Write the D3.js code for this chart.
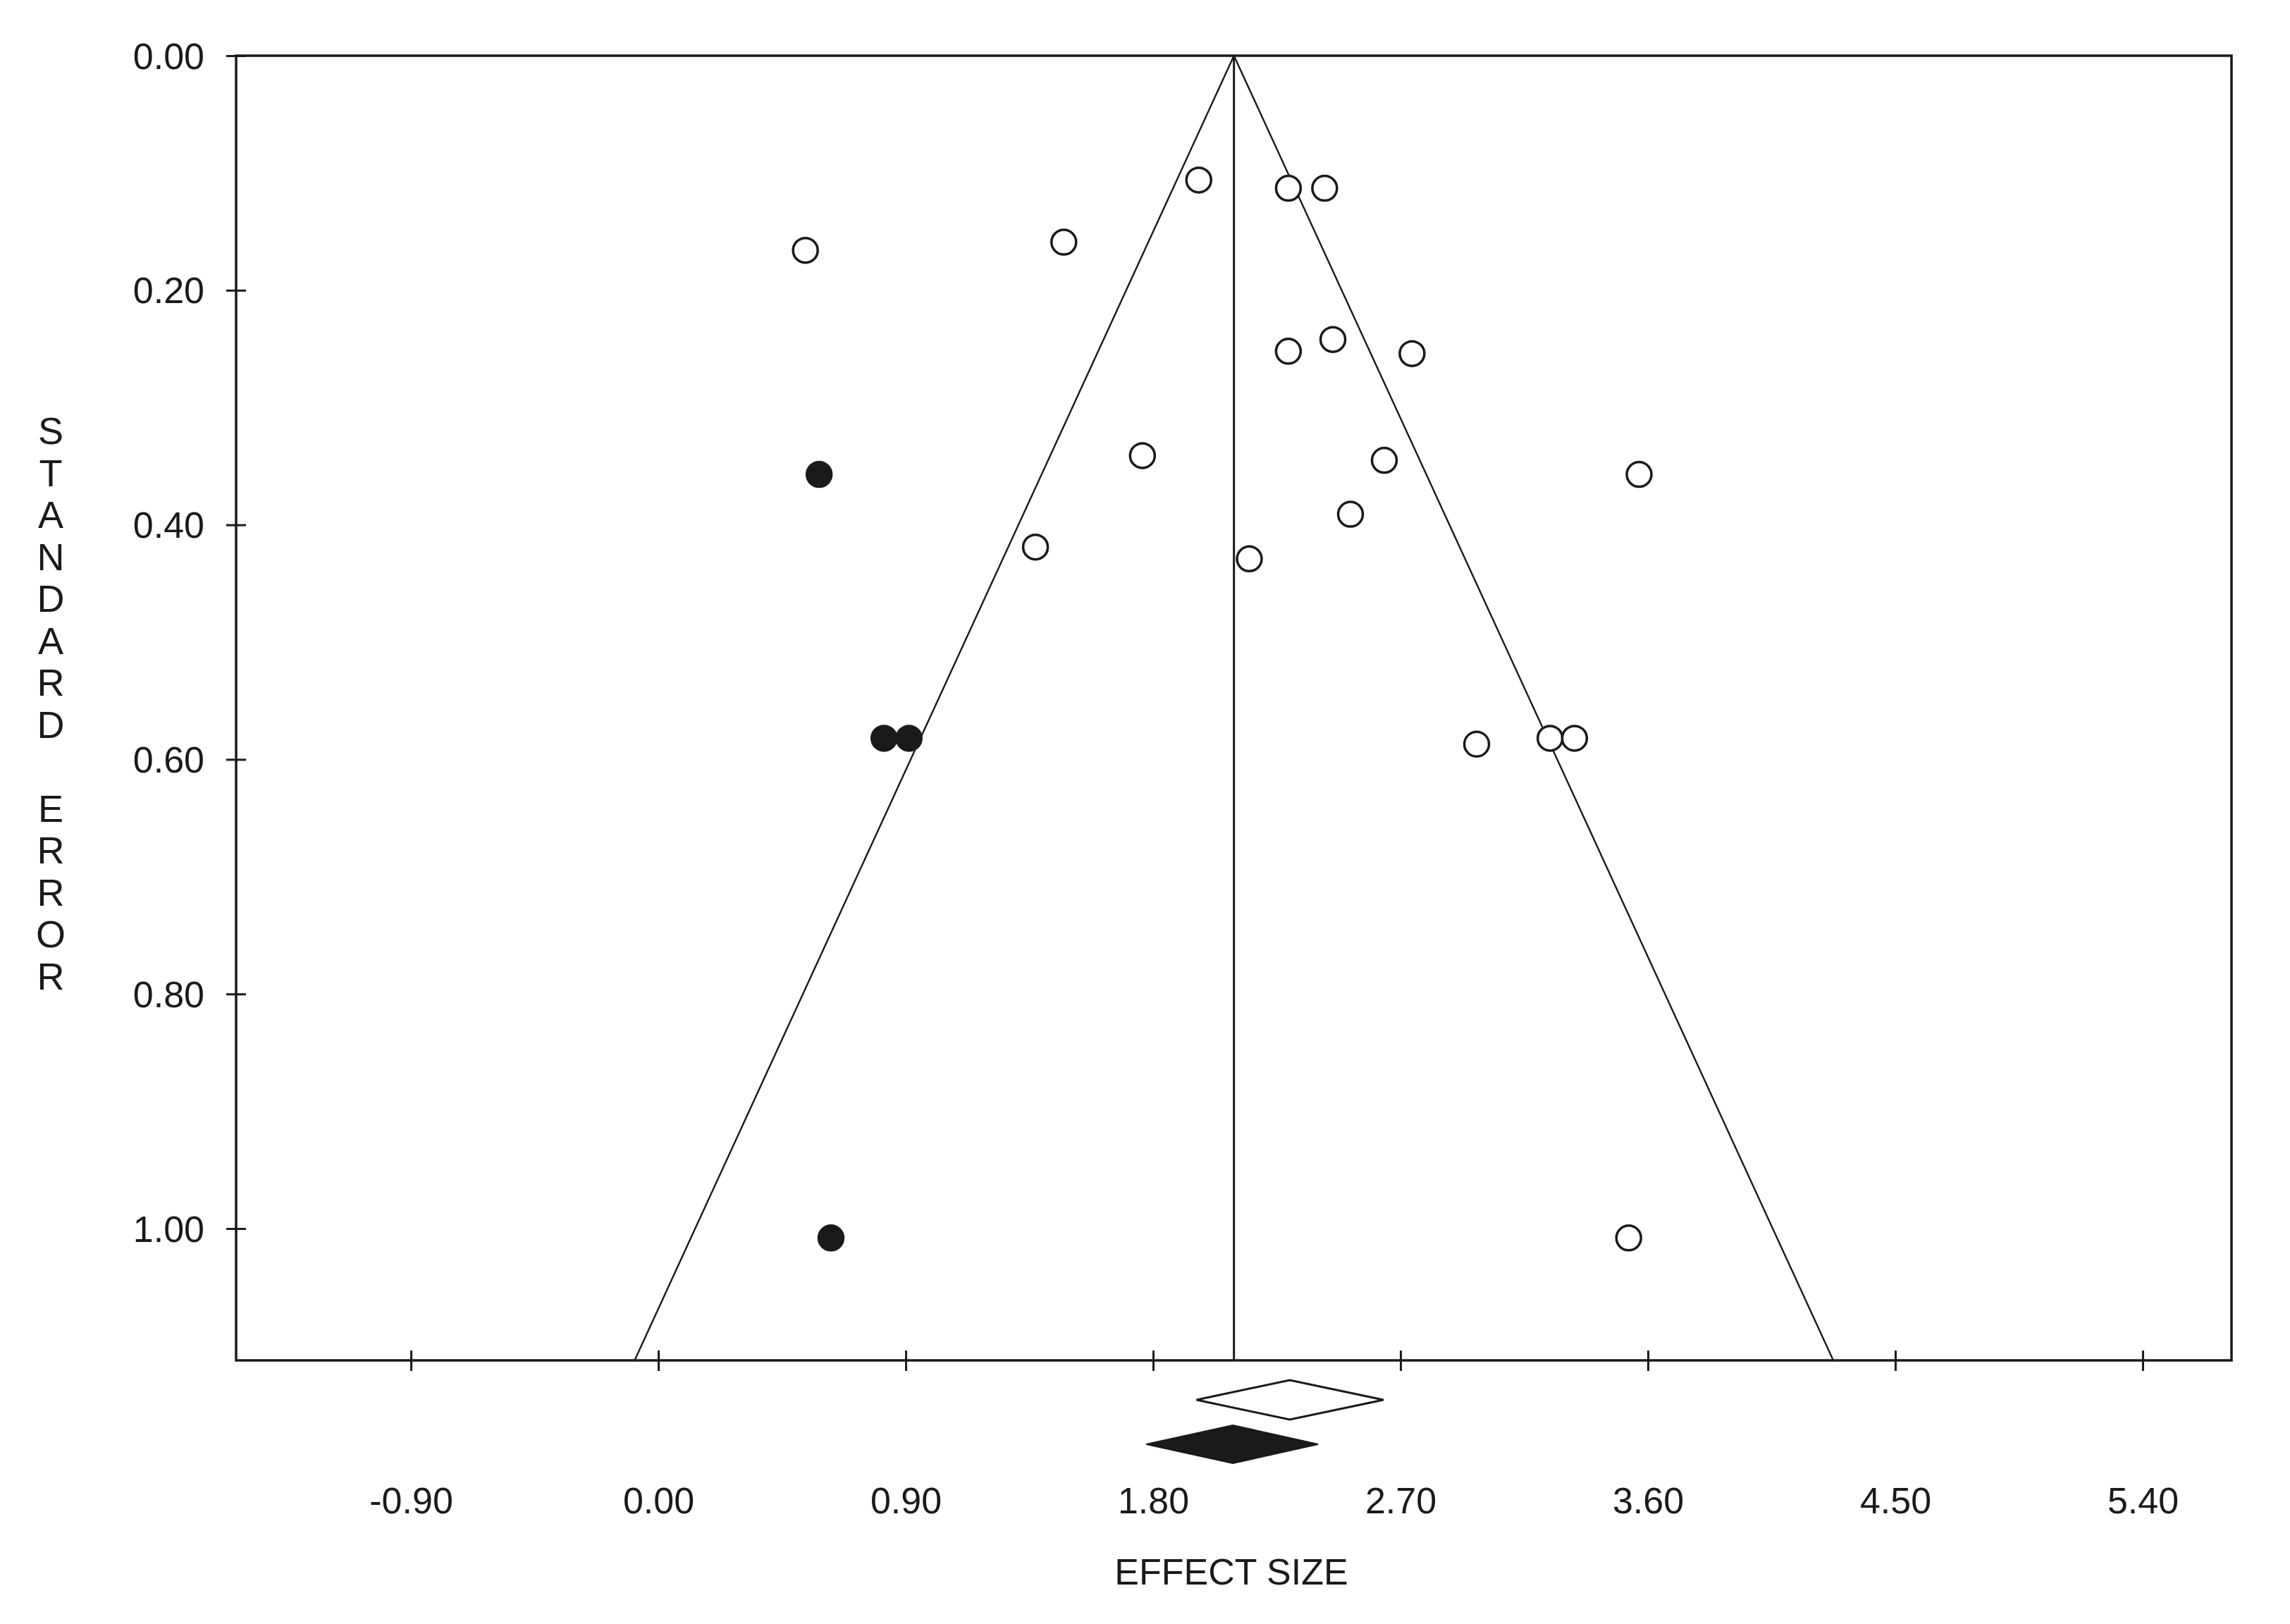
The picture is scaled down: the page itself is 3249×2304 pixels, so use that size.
<!DOCTYPE html>
<html>
<head>
<meta charset="utf-8">
<script src="https://cdn.jsdelivr.net/npm/d3@7"></script>
<style>
  html, body { margin: 0; padding: 0; background: #ffffff; }
  svg { display: block; }
  text { font-family: "Liberation Sans", Arial, sans-serif; fill: #1a1a1a; }
</style>
</head>
<body>
<svg id="chart" width="3249" height="2304"></svg>
<script>
// ---- Data ----
const observedEffect = [1.966, 2.292, 2.424, 0.535, 1.475, 2.292, 2.454, 2.742, 1.761, 2.641, 3.568, 2.518, 1.372, 2.150, 2.977, 3.244, 3.333, 3.530];
const observedSE     = [0.106, 0.113, 0.113, 0.166, 0.159, 0.252, 0.242, 0.254, 0.341, 0.345, 0.357, 0.391, 0.419, 0.429, 0.587, 0.582, 0.582, 1.008];
const imputedEffect  = [0.585, 0.821, 0.912, 0.628];
const imputedSE      = [0.357, 0.582, 0.582, 1.008];

const funnelCenter = 2.094;
const observedSummary = [1.958, 2.297, 2.638];   // lower, point, upper
const adjustedSummary = [1.775, 2.090, 2.400];

const xTickValues = [-0.90, 0.00, 0.90, 1.80, 2.70, 3.60, 4.50, 5.40];
const yTickValues = [0.00, 0.20, 0.40, 0.60, 0.80, 1.00];
const xDomain = [-1.536, 5.723];
const yDomain = [0, 1.1124];
const xTitle = "EFFECT SIZE";
const yTitle = "STANDARD ERROR";

// ---- Layout ----
const L = 335, R = 3166, T = 79, B = 1930;
const FS = 52;
const ink = "#1a1a1a";
const fmt = d => d.toFixed(2);

const svg = d3.select("#chart");
svg.append("rect").attr("width", 3249).attr("height", 2304).attr("fill", "#ffffff");

const x = d3.scaleLinear().domain(xDomain).range([L, R]);
const y = d3.scaleLinear().domain(yDomain).range([T, B]);

svg.append("clipPath").attr("id", "plotclip")
  .append("rect").attr("x", L).attr("y", T).attr("width", R - L).attr("height", B - T);

const plot = svg.append("g").attr("clip-path", "url(#plotclip)");

// funnel lines
const seMax = yDomain[1];
const funnel = [[funnelCenter - 1.96 * seMax, seMax], [funnelCenter, 0], [funnelCenter + 1.96 * seMax, seMax]];
plot.append("path")
  .attr("d", d3.line().x(d => x(d[0])).y(d => y(d[1]))(funnel))
  .attr("fill", "none").attr("stroke", ink).attr("stroke-width", 2.4);

// mean line
plot.append("line")
  .attr("x1", x(funnelCenter)).attr("x2", x(funnelCenter))
  .attr("y1", y(0)).attr("y2", y(seMax))
  .attr("stroke", ink).attr("stroke-width", 3);

// frame
svg.append("rect").attr("x", L).attr("y", T).attr("width", R - L).attr("height", B - T)
  .attr("fill", "none").attr("stroke", ink).attr("stroke-width", 3.5);

// x axis
const xAxis = svg.append("g").attr("transform", `translate(0,${B})`)
  .call(d3.axisBottom(x).tickValues(xTickValues).tickFormat(fmt).tickSizeOuter(0));
xAxis.select(".domain").remove();
xAxis.selectAll(".tick line").attr("y1", -14).attr("y2", 15).attr("stroke", ink).attr("stroke-width", 3);
xAxis.selectAll(".tick text").attr("y", 217).attr("dy", null)
  .attr("font-size", FS).attr("fill", ink).style("font-family", "'Liberation Sans', Arial, sans-serif");

// y axis
const yAxis = svg.append("g").attr("transform", `translate(${L},0)`)
  .call(d3.axisLeft(y).tickValues(yTickValues).tickFormat(fmt).tickSizeOuter(0));
yAxis.select(".domain").remove();
yAxis.selectAll(".tick line").attr("x1", -14).attr("x2", 14).attr("stroke", ink).attr("stroke-width", 3);
yAxis.selectAll(".tick text").attr("x", -45).attr("dy", "0.35em")
  .attr("font-size", FS).attr("fill", ink).style("font-family", "'Liberation Sans', Arial, sans-serif");

// points
const obs = observedEffect.map((e, i) => ({ e, se: observedSE[i] }));
const imp = imputedEffect.map((e, i) => ({ e, se: imputedSE[i] }));

svg.append("g").selectAll("circle").data(obs).join("circle")
  .attr("cx", d => x(d.e)).attr("cy", d => y(d.se)).attr("r", 17.5)
  .attr("fill", "#ffffff").attr("stroke", ink).attr("stroke-width", 3.5);

svg.append("g").selectAll("circle").data(imp).join("circle")
  .attr("cx", d => x(d.e)).attr("cy", d => y(d.se)).attr("r", 18.5)
  .attr("fill", ink).attr("stroke", ink).attr("stroke-width", 1.5);

// summary diamonds
function diamond(vals, cy, h) {
  const [lo, pt, hi] = vals;
  return `M${x(lo)},${cy} L${x(pt)},${cy - h} L${x(hi)},${cy} L${x(pt)},${cy + h} Z`;
}
svg.append("path").attr("d", diamond(observedSummary, 1986, 28))
  .attr("fill", "#ffffff").attr("stroke", ink).attr("stroke-width", 3);
svg.append("path").attr("d", diamond(adjustedSummary, 2049, 27))
  .attr("fill", ink).attr("stroke", ink).attr("stroke-width", 2);

// titles
svg.append("text").attr("x", 1747).attr("y", 2248).attr("text-anchor", "middle")
  .attr("font-size", FS).text(xTitle);

const yt = svg.append("text").attr("font-size", FS + 2).attr("text-anchor", "middle");
yTitle.split("").forEach((ch, i) => {
  yt.append("tspan").attr("x", 72).attr("y", 611 + i * 59.5 + 19).text(ch === " " ? "\u00a0" : ch);
});
</script>
</body>
</html>
